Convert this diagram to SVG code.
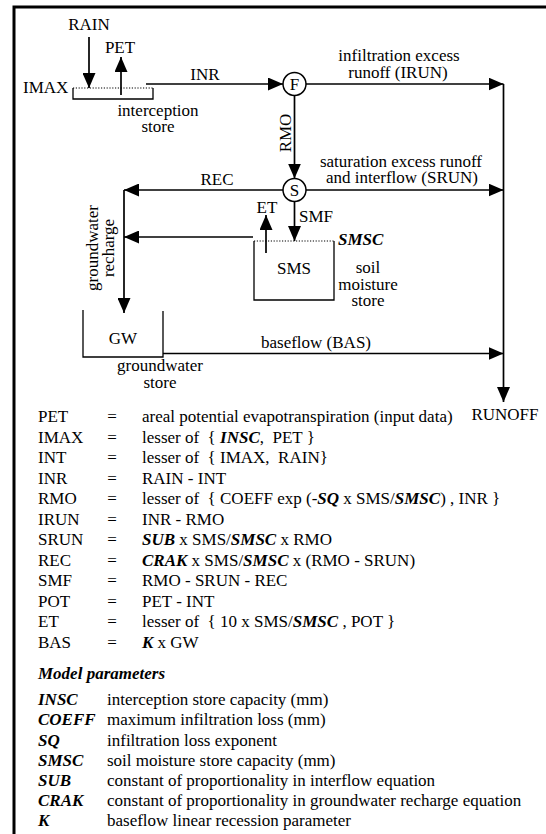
<svg xmlns="http://www.w3.org/2000/svg" width="546" height="834" viewBox="0 0 546 834">
<style>
text{font-family:"Liberation Serif","Times New Roman",serif;font-size:17px;fill:#000;white-space:pre}
.m{text-anchor:middle}
.bi{font-weight:bold;font-style:italic}
.ln{fill:none;stroke:#000;stroke-width:1.7}
.bx{fill:none;stroke:#000;stroke-width:1.3}
.dot{fill:none;stroke:#000;stroke-width:1.2;stroke-dasharray:1.2,1.6}
.cir{fill:#fff;stroke:#000;stroke-width:1.5}
</style>
<defs>
<marker id="ah" markerWidth="15" markerHeight="13" refX="15" refY="6.5" orient="auto" markerUnits="userSpaceOnUse">
<path d="M0,0 L15,6.5 L0,13 z" fill="#000"/>
</marker>
</defs>
<rect width="546" height="834" fill="#fff"/>
<path d="M14,834 V7 H546" fill="none" stroke="#000" stroke-width="3"/>

<g id="connectors">
<line class="ln" x1="89" y1="37" x2="89" y2="88" marker-end="url(#ah)"/>
<line class="ln" x1="121" y1="95" x2="121" y2="57" marker-end="url(#ah)"/>
<line class="ln" x1="146" y1="84" x2="283" y2="84" marker-end="url(#ah)"/>
<line class="ln" x1="306" y1="84" x2="503.5" y2="84" marker-end="url(#ah)"/>
<line class="ln" x1="503.5" y1="84" x2="503.5" y2="402" marker-end="url(#ah)"/>
<line class="ln" x1="294.5" y1="95.5" x2="294.5" y2="178.5" marker-end="url(#ah)"/>
<line class="ln" x1="306" y1="190" x2="503.5" y2="190" marker-end="url(#ah)"/>
<line class="ln" x1="283" y1="190" x2="124" y2="190" marker-end="url(#ah)"/>
<line class="ln" x1="124" y1="190" x2="124" y2="313" marker-end="url(#ah)"/>
<line class="ln" x1="253" y1="237" x2="124" y2="237" marker-end="url(#ah)"/>
<line class="ln" x1="294.5" y1="201.5" x2="294.5" y2="241" marker-end="url(#ah)"/>
<line class="ln" x1="266" y1="253" x2="266" y2="215" marker-end="url(#ah)"/>
<line class="ln" x1="163" y1="353.5" x2="503.5" y2="353.5" marker-end="url(#ah)"/>
</g>

<g id="rain"><text class="m" x="89" y="30">RAIN</text></g>
<g id="pet"><text class="m" x="120" y="53">PET</text></g>
<g id="interception-store">
<text x="23" y="93">IMAX</text>
<line class="dot" x1="73" y1="88" x2="153" y2="88"/>
<path class="bx" d="M73,88 V99 H153 V88"/>
<text class="m" x="158" y="115.5">interception</text>
<text class="m" x="158" y="131.5">store</text>
</g>
<g id="inr-label"><text class="m" x="205" y="80">INR</text></g>
<g id="node-F">
<circle class="cir" cx="294.5" cy="84" r="11.5"/>
<text class="m" x="294.5" y="89.8">F</text>
</g>
<g id="irun-label">
<text class="m" x="399" y="61">infiltration excess</text>
<text class="m" x="398" y="78">runoff (IRUN)</text>
</g>
<g id="rmo-label"><text class="m" transform="translate(290.5,133) rotate(-90)">RMO</text></g>
<g id="node-S">
<circle class="cir" cx="294.5" cy="190" r="11.5"/>
<text class="m" x="294.5" y="195.8">S</text>
</g>
<g id="srun-label">
<text class="m" x="401" y="167">saturation excess runoff</text>
<text class="m" x="402" y="183">and interflow (SRUN)</text>
</g>
<g id="rec-label"><text class="m" x="217" y="185">REC</text></g>
<g id="recharge-label">
<text class="m" transform="translate(97.5,248) rotate(-90)">groundwater</text>
<text class="m" transform="translate(113.5,248) rotate(-90)">recharge</text>
</g>
<g id="et-label"><text class="m" x="267" y="212.5">ET</text></g>
<g id="smf-label"><text x="299" y="222">SMF</text></g>
<g id="soil-moisture-store">
<line class="dot" x1="254" y1="241" x2="334" y2="241"/>
<path class="bx" d="M254,241 V300 H334 V241"/>
<text class="bi" x="338" y="245">SMSC</text>
<text class="m" x="294" y="274">SMS</text>
<text class="m" x="368" y="273">soil</text>
<text class="m" x="368" y="290">moisture</text>
<text class="m" x="368" y="306">store</text>
</g>
<g id="groundwater-store">
<path class="bx" d="M83,310 V357 H163 V311"/>
<text class="m" x="123" y="344">GW</text>
<text class="m" x="160" y="371">groundwater</text>
<text class="m" x="160" y="388">store</text>
</g>
<g id="bas-label"><text class="m" x="316" y="348">baseflow (BAS)</text></g>
<g id="runoff"><text class="m" x="505" y="420">RUNOFF</text></g>

<g id="legend">
<text x="38" y="422">PET</text><text class="m" x="112" y="422">=</text><text x="142" y="422">areal potential evapotranspiration (input data)</text>
<text x="38" y="442.5">IMAX</text><text class="m" x="112" y="442.5">=</text><text x="142" y="442.5">lesser of  { <tspan class="bi">INSC</tspan>,  PET }</text>
<text x="38" y="463">INT</text><text class="m" x="112" y="463">=</text><text x="142" y="463">lesser of  { IMAX,  RAIN}</text>
<text x="38" y="483.5">INR</text><text class="m" x="112" y="483.5">=</text><text x="142" y="483.5">RAIN - INT</text>
<text x="38" y="504">RMO</text><text class="m" x="112" y="504">=</text><text x="142" y="504">lesser of  { COEFF exp (-<tspan class="bi">SQ</tspan> x SMS/<tspan class="bi">SMSC</tspan>) , INR }</text>
<text x="38" y="524.5">IRUN</text><text class="m" x="112" y="524.5">=</text><text x="142" y="524.5">INR - RMO</text>
<text x="38" y="545">SRUN</text><text class="m" x="112" y="545">=</text><text x="142" y="545"><tspan class="bi">SUB</tspan> x SMS/<tspan class="bi">SMSC</tspan> x RMO</text>
<text x="38" y="565.5">REC</text><text class="m" x="112" y="565.5">=</text><text x="142" y="565.5"><tspan class="bi">CRAK</tspan> x SMS/<tspan class="bi">SMSC</tspan> x (RMO - SRUN)</text>
<text x="38" y="586">SMF</text><text class="m" x="112" y="586">=</text><text x="142" y="586">RMO - SRUN - REC</text>
<text x="38" y="606.5">POT</text><text class="m" x="112" y="606.5">=</text><text x="142" y="606.5">PET - INT</text>
<text x="38" y="627">ET</text><text class="m" x="112" y="627">=</text><text x="142" y="627">lesser of  { 10 x SMS/<tspan class="bi">SMSC</tspan> , POT }</text>
<text x="38" y="647.5">BAS</text><text class="m" x="112" y="647.5">=</text><text x="142" y="647.5"><tspan class="bi">K</tspan> x GW</text>
</g>
<g id="parameters">
<text class="bi" x="38" y="679">Model parameters</text>
<text class="bi" x="38" y="705">INSC</text><text x="107" y="705">interception store capacity (mm)</text>
<text class="bi" x="38" y="725">COEFF</text><text x="107" y="725">maximum infiltration loss (mm)</text>
<text class="bi" x="38" y="745.5">SQ</text><text x="107" y="745.5">infiltration loss exponent</text>
<text class="bi" x="38" y="765.5">SMSC</text><text x="107" y="765.5">soil moisture store capacity (mm)</text>
<text class="bi" x="38" y="786">SUB</text><text x="107" y="786">constant of proportionality in interflow equation</text>
<text class="bi" x="38" y="806">CRAK</text><text x="107" y="806">constant of proportionality in groundwater recharge equation</text>
<text class="bi" x="38" y="826">K</text><text x="107" y="826">baseflow linear recession parameter</text>
</g>
</svg>
